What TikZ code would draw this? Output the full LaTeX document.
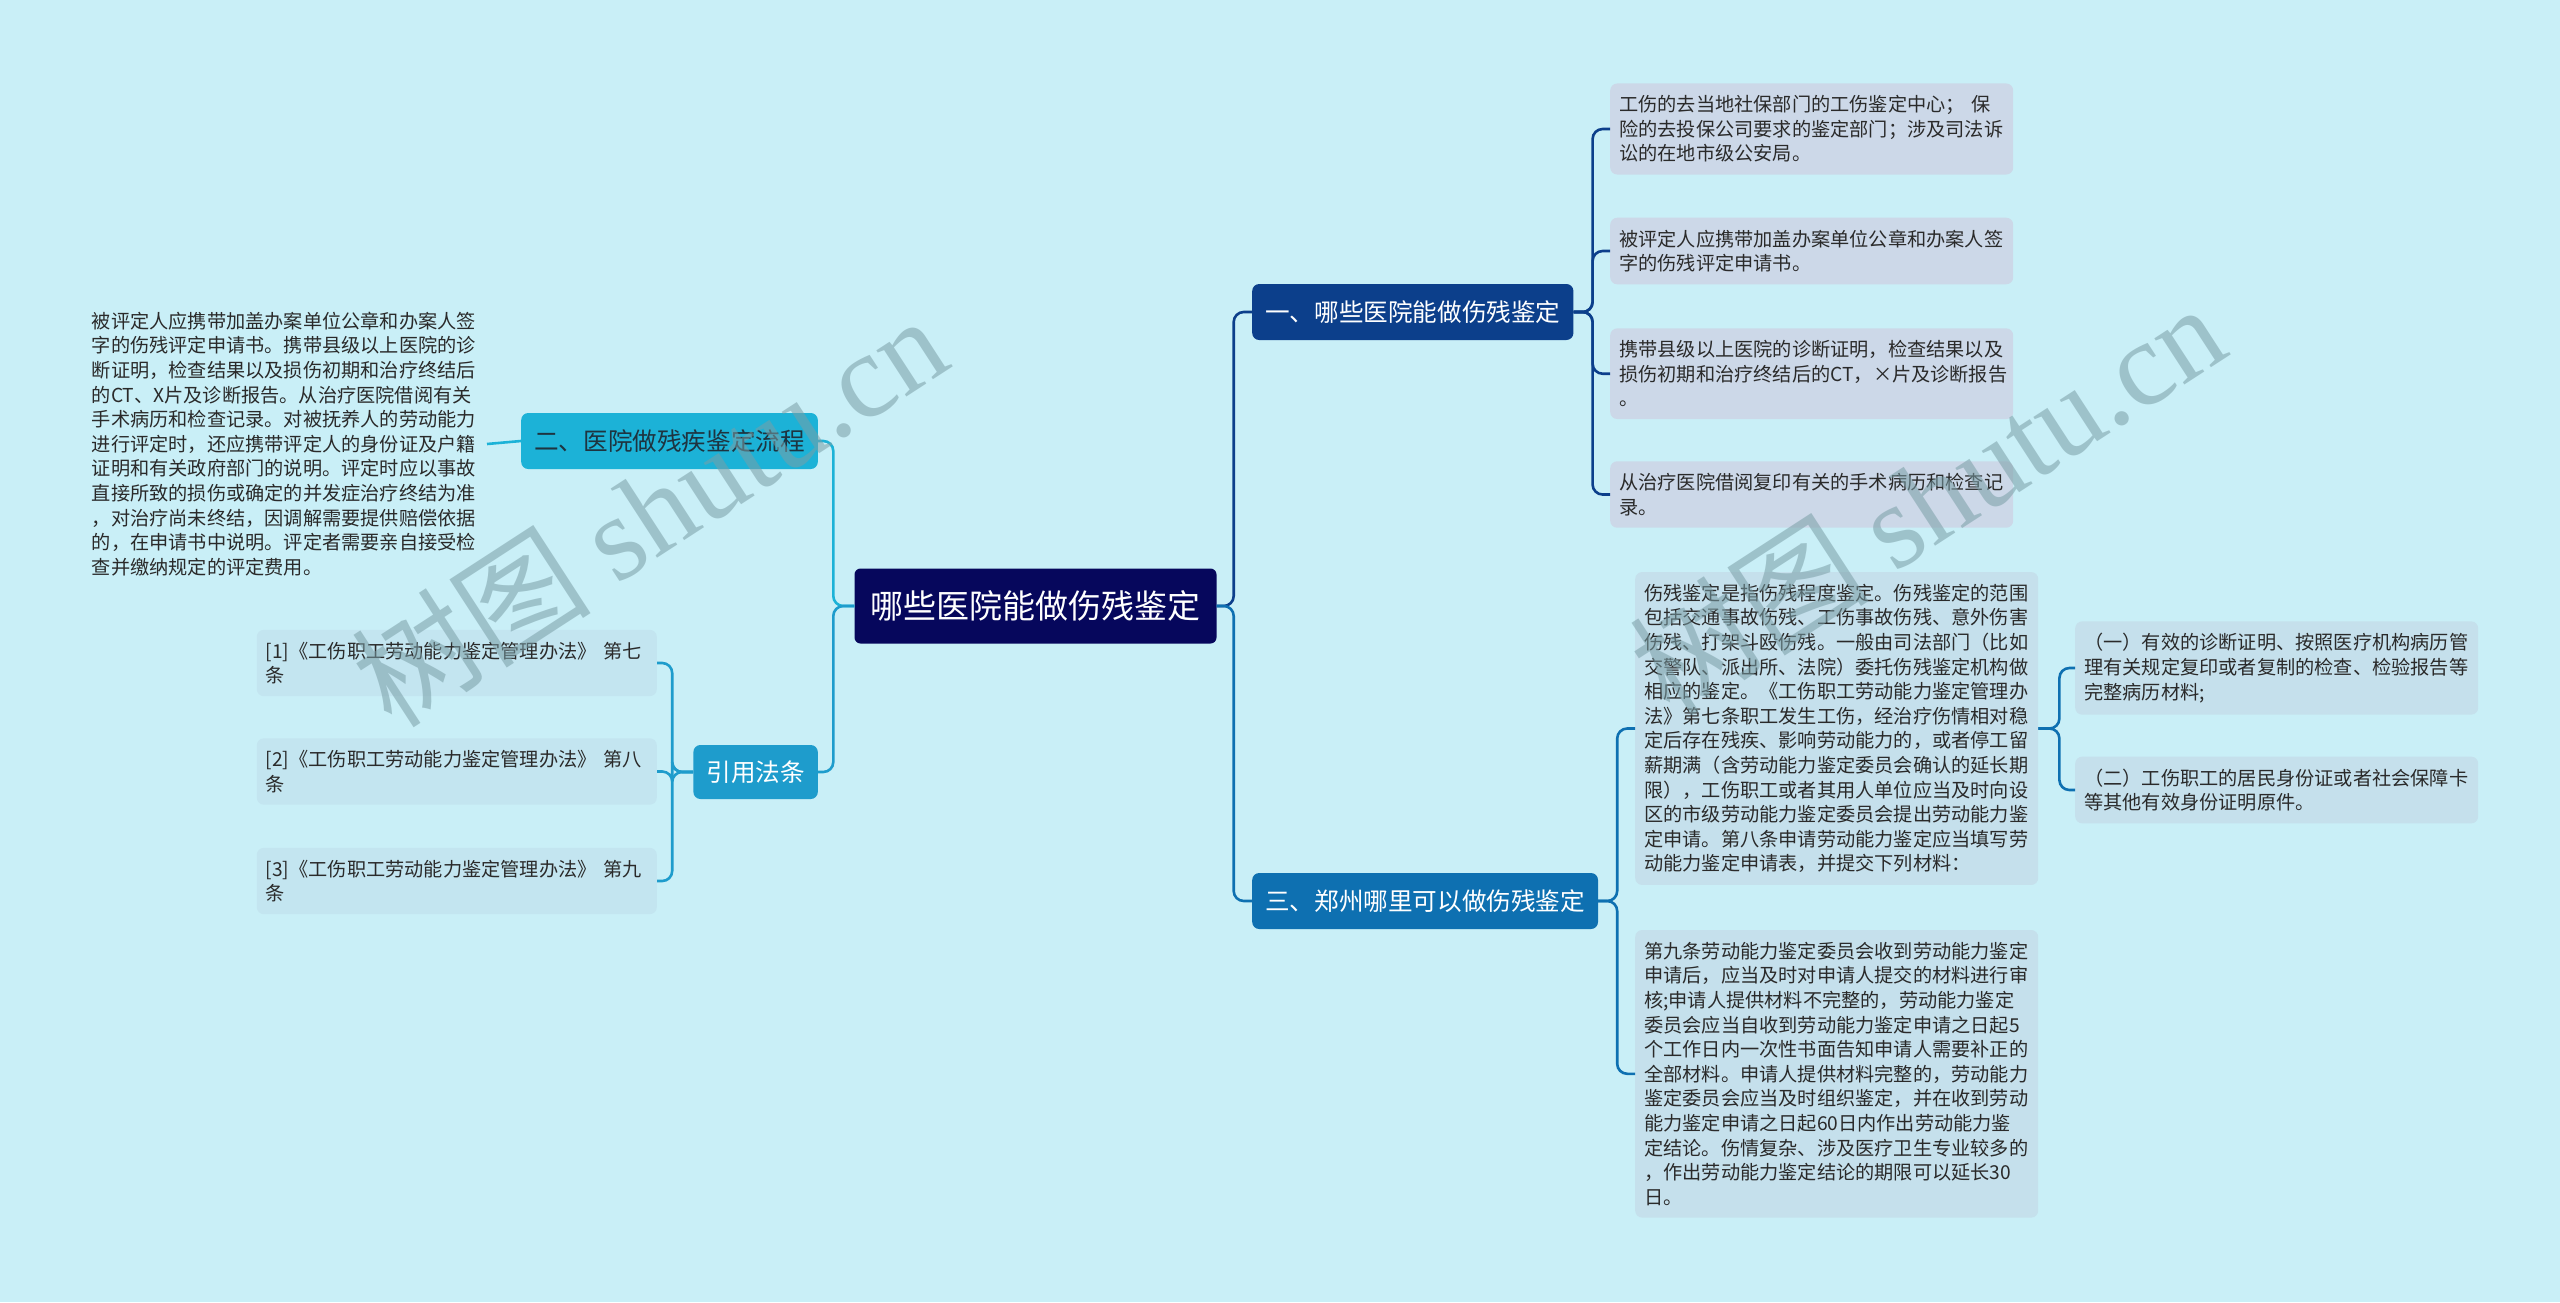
\documentclass[tikz,border=0pt]{standalone}
\usepackage{fontspec}
\setmainfont{Noto Sans CJK SC}
\newfontfamily\markfont{Liberation Serif}
\usepackage{tikz}
\usetikzlibrary{positioning,calc}
\definecolor{paper}{HTML}{C9EFF7}
\definecolor{rootblue}{HTML}{06075C}
\definecolor{deep}{HTML}{0C3F8B}
\definecolor{ocean}{HTML}{0E70B1}
\definecolor{sky}{HTML}{1CB2D7}
\definecolor{skyink}{HTML}{1E3440}
\definecolor{lawblue}{HTML}{1E9CCC}
\definecolor{leafa}{HTML}{CCD8E8}
\definecolor{leafb}{HTML}{C5E0EC}
\definecolor{leafc}{HTML}{C3E5F0}
\definecolor{ink}{HTML}{2A2A2A}
\definecolor{wmark}{HTML}{7A9EA6}

\begin{document}
\begin{tikzpicture}[x=1pt, y=-1pt,
  trunk/.style={fill=rootblue, text=white, rounded corners=6pt, minimum height=75pt,
    inner xsep=16pt, font=\fontsize{33}{38}\selectfont},
  branch/.style={rounded corners=7pt, minimum height=56pt, inner xsep=13pt,
    font=\fontsize{24.6}{28}\selectfont},
  leaf/.style={rounded corners=7pt, inner xsep=9pt, inner ysep=12pt, text width=385pt,
    align=left, text=ink, font=\fontsize{19.2}{24.6}\selectfont},
  link/.style={line width=2.6pt, rounded corners=10pt},
  wm/.style={text=wmark, text opacity=0.55, rotate=33, font=\fontsize{120}{130}\selectfont}]

  \fill[paper] (0,0) rectangle (2560,1302);
  \useasboundingbox (0,0) rectangle (2560,1302);

  % centre and first level
  \node[trunk] (root) at (1035.5,606) {哪些医院能做伤残鉴定};
  \node[branch, fill=deep, text=white, anchor=west] (one) at (1252,312) {一、哪些医院能做伤残鉴定};
  \node[branch, fill=ocean, text=white, anchor=west] (three) at (1252,901) {三、郑州哪里可以做伤残鉴定};
  \node[branch, fill=sky, text=skyink, anchor=east] (two) at (818,441) {二、医院做残疾鉴定流程};
  \node[branch, fill=lawblue, text=white, anchor=east, minimum height=54pt] (law) at (818,772) {引用法条};

  % right, upper branch
  \node[leaf, fill=leafa, anchor=west] (one1) at (1610,129)
    {工伤的去当地社保部门的工伤鉴定中心；~保\\险的去投保公司要求的鉴定部门；涉及司法诉\\讼的在地市级公安局。};
  \node[leaf, fill=leafa, anchor=west] (one2) at (1610,251)
    {被评定人应携带加盖办案单位公章和办案人签\\字的伤残评定申请书。};
  \node[leaf, fill=leafa, anchor=west] (one3) at (1610,373.7)
    {携带县级以上医院的诊断证明，检查结果以及\\损伤初期和治疗终结后的CT，×片及诊断报告\\。};
  \node[leaf, fill=leafa, anchor=west] (one4) at (1610,494.5)
    {从治疗医院借阅复印有关的手术病历和检查记\\录。};

  % right, lower branch
  \node[leaf, fill=leafb, anchor=west] (three1) at (1635,728.5)
    {伤残鉴定是指伤残程度鉴定。伤残鉴定的范围\\包括交通事故伤残、工伤事故伤残、意外伤害\\伤残、打架斗殴伤残。一般由司法部门（比如\\交警队、派出所、法院）委托伤残鉴定机构做\\相应的鉴定。《工伤职工劳动能力鉴定管理办\\法》第七条职工发生工伤，经治疗伤情相对稳\\定后存在残疾、影响劳动能力的，或者停工留\\薪期满（含劳动能力鉴定委员会确认的延长期\\限），工伤职工或者其用人单位应当及时向设\\区的市级劳动能力鉴定委员会提出劳动能力鉴\\定申请。第八条申请劳动能力鉴定应当填写劳\\动能力鉴定申请表，并提交下列材料：};
  \node[leaf, fill=leafb, anchor=west] (three2) at (1635,1073.8)
    {第九条劳动能力鉴定委员会收到劳动能力鉴定\\申请后，应当及时对申请人提交的材料进行审\\核;申请人提供材料不完整的，劳动能力鉴定\\委员会应当自收到劳动能力鉴定申请之日起5\\个工作日内一次性书面告知申请人需要补正的\\全部材料。申请人提供材料完整的，劳动能力\\鉴定委员会应当及时组织鉴定，并在收到劳动\\能力鉴定申请之日起60日内作出劳动能力鉴\\定结论。伤情复杂、涉及医疗卫生专业较多的\\，作出劳动能力鉴定结论的期限可以延长30\\日。};
  \node[leaf, fill=leafb, anchor=west] (item1) at (2075,668)
    {（一）有效的诊断证明、按照医疗机构病历管\\理有关规定复印或者复制的检查、检验报告等\\完整病历材料;};
  \node[leaf, fill=leafb, anchor=west] (item2) at (2075,790)
    {（二）工伤职工的居民身份证或者社会保障卡\\等其他有效身份证明原件。};

  % left branches
  \node[leaf, anchor=east, inner xsep=10pt, inner ysep=0pt] (flow) at (487,444)
    {被评定人应携带加盖办案单位公章和办案人签\\字的伤残评定申请书。携带县级以上医院的诊\\断证明，检查结果以及损伤初期和治疗终结后\\的CT、X片及诊断报告。从治疗医院借阅有关\\手术病历和检查记录。对被抚养人的劳动能力\\进行评定时，还应携带评定人的身份证及户籍\\证明和有关政府部门的说明。评定时应以事故\\直接所致的损伤或确定的并发症治疗终结为准\\，对治疗尚未终结，因调解需要提供赔偿依据\\的，在申请书中说明。评定者需要亲自接受检\\查并缴纳规定的评定费用。};
  \node[leaf, fill=leafc, anchor=east, text width=382pt] (ref1) at (657,663)
    {[1]《工伤职工劳动能力鉴定管理办法》 第七\\条};
  \node[leaf, fill=leafc, anchor=east, text width=382pt] (ref2) at (657,771.5)
    {[2]《工伤职工劳动能力鉴定管理办法》 第八\\条};
  \node[leaf, fill=leafc, anchor=east, text width=382pt] (ref3) at (657,881)
    {[3]《工伤职工劳动能力鉴定管理办法》 第九\\条};

  % connectors
  \draw[link, deep] (root.east) -- ++(17,0) |- (one.west);
  \draw[link, ocean] (root.east) -- ++(17,0) |- (three.west);
  \draw[link, sky] (root.west) -- ++(-21,0) |- (two.east);
  \draw[link, lawblue] (root.west) -- ++(-21,0) |- (law.east);
  \draw[link, sky] (two.west) -- (flow.east);
  \foreach \n in {one1,one2,one3,one4}
    \draw[link, deep] (one.east) -- ++(19,0) |- (\n.west);
  \foreach \n in {three1,three2}
    \draw[link, ocean] (three.east) -- ++(19,0) |- (\n.west);
  \foreach \n in {item1,item2}
    \draw[link, ocean] (three1.east) -- ++(21,0) |- (\n.west);
  \foreach \n in {ref1,ref2,ref3}
    \draw[link, lawblue] (law.west) -- ++(-21,0) |- (\n.east);

  % watermarks
  \node[wm] (mark1) at (649,510) {树图 {\markfont shutu.cn}};
  \node[wm] (mark2) at (1927,498) {树图 {\markfont shutu.cn}};
\end{tikzpicture}
\end{document}
